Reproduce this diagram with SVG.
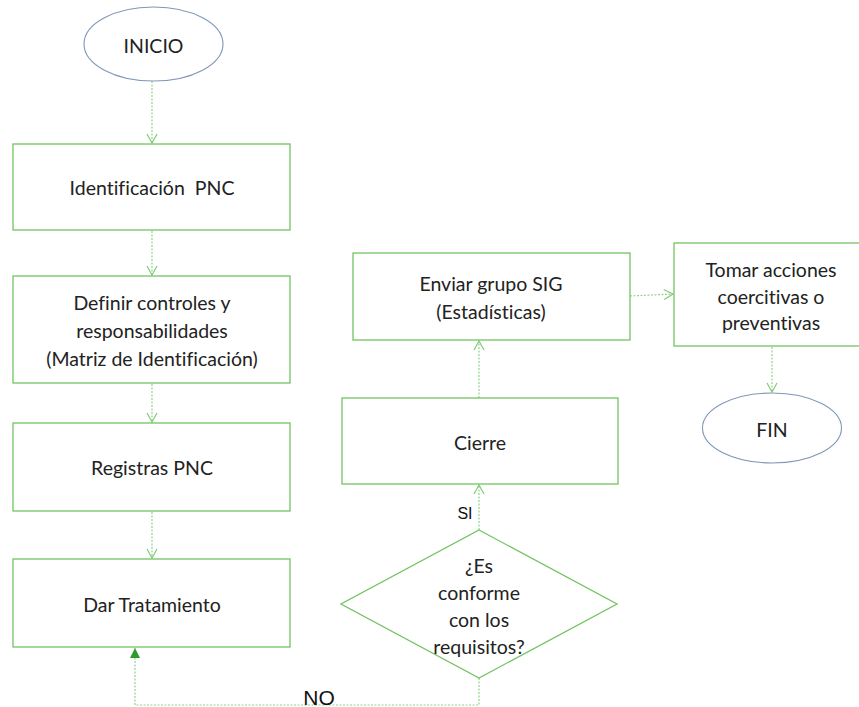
<svg xmlns="http://www.w3.org/2000/svg" width="859" height="707" viewBox="0 0 859 707">
<style>
.box{fill:#fff;stroke:#72c462;stroke-width:1.3}
.ell{fill:#fff;stroke:#7f98b8;stroke-width:1.1}
.t{font-family:Lato,"Open Sans",sans-serif;font-size:19.5px;fill:#222;text-anchor:middle;dominant-baseline:central;font-variant-ligatures:none}
.a{font-family:"Liberation Sans",Arial,sans-serif;fill:#111;text-anchor:middle;dominant-baseline:central}
.c{fill:none;stroke:#8fd48a;stroke-width:1.2;stroke-dasharray:2 1.5}
</style>
<defs>
<marker id="open" markerWidth="12" markerHeight="12" refX="10" refY="6" orient="auto" markerUnits="userSpaceOnUse">
<path d="M1,1 L10,6 L1,11" fill="none" stroke="#7fcc78" stroke-width="1.2"/>
</marker>
<marker id="fill" markerWidth="12" markerHeight="12" refX="10" refY="5" orient="auto" markerUnits="userSpaceOnUse">
<path d="M0,0 L10,5 L0,10 Z" fill="#2e9a2e"/>
</marker>
</defs>
<g id="connectors">
<path class="c" d="M152,81 L152,143" marker-end="url(#open)"/>
<path class="c" d="M152,231 L152,275" marker-end="url(#open)"/>
<path class="c" d="M152,384 L152,422" marker-end="url(#open)"/>
<path class="c" d="M152,512 L152,558" marker-end="url(#open)"/>
<path class="c" d="M479,530 L479,485" marker-end="url(#open)"/>
<path class="c" d="M479,398 L479,341" marker-end="url(#open)"/>
<path class="c" d="M630,296 L673,294" marker-end="url(#open)"/>
<path class="c" d="M772,347 L772,392" marker-end="url(#open)"/>
<path class="c" d="M479,678 L479,705 L135,705 L135,648" stroke="#6cc060" marker-end="url(#fill)"/>
<text class="a" x="465" y="513" font-size="16">SI</text>
<text class="a" x="319" y="697" font-size="21">NO</text>
</g>
<g id="inicio"><ellipse class="ell" cx="153.5" cy="44" rx="69.5" ry="37"/><text class="t" x="153.5" y="45">INICIO</text></g>
<g id="identificacion"><rect class="box" x="13" y="144" width="277" height="86"/><text class="t" x="152" y="187" xml:space="preserve">Identificación  PNC</text></g>
<g id="definir"><rect class="box" x="13" y="276" width="277" height="107"/>
<text class="t" x="152" y="302">Definir controles y</text><text class="t" x="152" y="330">responsabilidades</text><text class="t" x="152" y="358">(Matriz de Identificación)</text></g>
<g id="registras"><rect class="box" x="13" y="423" width="277" height="88"/><text class="t" x="152" y="467">Registras PNC</text></g>
<g id="tratamiento"><rect class="box" x="13" y="559" width="277" height="88"/><text class="t" x="152" y="604">Dar Tratamiento</text></g>
<g id="decision"><polygon class="box" points="479,530 617,604 479,678 341,604"/>
<text class="t" x="479" y="565">¿Es</text><text class="t" x="479" y="592">conforme</text><text class="t" x="479" y="619">con los</text><text class="t" x="479" y="646">requisitos?</text></g>
<g id="cierre"><rect class="box" x="342" y="398" width="276" height="86"/><text class="t" x="480" y="442">Cierre</text></g>
<g id="enviar"><rect class="box" x="353" y="253" width="277" height="87"/>
<text class="t" x="491" y="283">Enviar grupo SIG</text><text class="t" x="491" y="311">(Estadísticas)</text></g>
<g id="tomar"><rect class="box" x="674" y="243" width="200" height="103"/>
<text class="t" x="771" y="269">Tomar acciones</text><text class="t" x="771" y="296">coercitivas o</text><text class="t" x="771" y="322">preventivas</text></g>
<g id="fin"><ellipse class="ell" cx="772" cy="428" rx="69.5" ry="35"/><text class="t" x="772" y="429">FIN</text></g>
</svg>
